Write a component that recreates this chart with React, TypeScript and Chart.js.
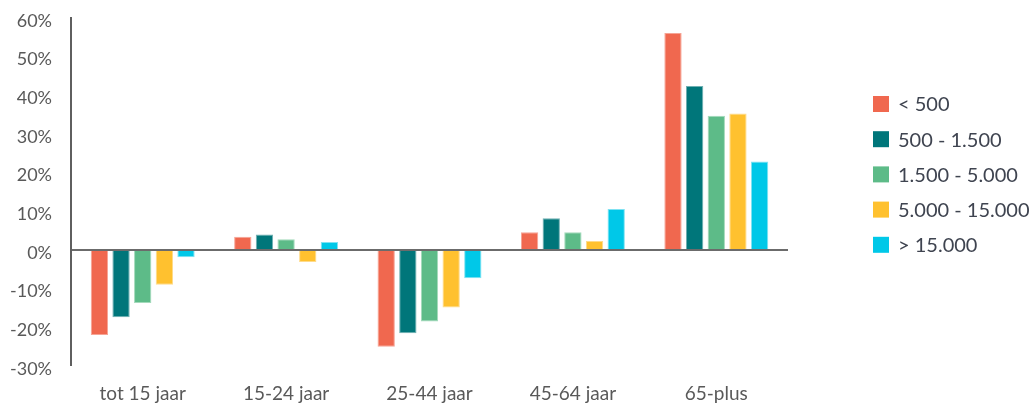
import React, { useEffect, useRef } from "react";
import { Chart, registerables } from "chart.js";

Chart.register(...registerables);

const categories = ["tot 15 jaar", "15-24 jaar", "25-44 jaar", "45-64 jaar", "65-plus"];
const seriesLabels = ["< 500", "500 - 1.500", "1.500 - 5.000", "5.000 - 15.000", "> 15.000"];
const seriesColors = ["#F0684F", "#00767A", "#5DBB88", "#FFC12F", "#00C8E8"];
const seriesBorders = ["#F6A495", "#6FB0B2", "#A3DABB", "#FFDB8A", "#7FE2F2"];
const lt500 = [-22.0, 3.4, -25.0, 4.6, 56.1];
const s500_1500 = [-17.4, 4.0, -21.5, 8.2, 42.4];
const s1500_5000 = [-13.7, 2.8, -18.5, 4.6, 34.7];
const s5000_15000 = [-9.0, -3.1, -14.9, 2.3, 35.3];
const gt15000 = [-1.9, 2.1, -7.3, 10.6, 22.9];
const yTicks = [-30, -20, -10, 0, 10, 20, 30, 40, 50, 60];

const seriesValues = [lt500, s500_1500, s1500_5000, s5000_15000, gt15000];

const legendPlugin = {
  id: "customLegend",
  afterDraw(chart: any) {
    const { ctx, chartArea } = chart;
    const x0 = chartArea.right + 85;
    const yStart = 104;
    const step = 35.2;
    ctx.save();
    ctx.font = "20px Lato";
    ctx.textBaseline = "middle";
    ctx.textAlign = "left";
    chart.data.datasets.forEach((ds: any, i: number) => {
      const y = yStart + i * step;
      ctx.fillStyle = ds.backgroundColor;
      ctx.fillRect(x0, y - 8, 16, 16);
      ctx.fillStyle = "#3F4450";
      ctx.fillText(ds.label, x0 + 25, y + 1);
    });
    ctx.restore();
  },
};

export default function App() {
  const ref = useRef<HTMLCanvasElement | null>(null);
  useEffect(() => {
    document.body.style.margin = "0";
    const canvas = ref.current!;
    const chart = new Chart(canvas, {
      type: "bar",
      data: {
        labels: categories,
        datasets: seriesLabels.map((label, i) => ({
          label,
          data: seriesValues[i],
          backgroundColor: seriesColors[i],
          borderColor: seriesBorders[i],
          borderWidth: 1,
          categoryPercentage: 0.755,
          barPercentage: 0.8,
        })),
      },
      options: {
        animation: false,
        responsive: false,
        maintainAspectRatio: false,
        layout: { padding: { top: 18, right: 247, bottom: 0, left: 0 } },
        plugins: {
          legend: { display: false },
          tooltip: { enabled: false },
        },
        scales: {
          x: {
            grid: { display: false, drawTicks: false },
            border: { display: false },
            ticks: {
              color: "#595959",
              font: { family: "Lato", size: 19 },
              padding: 16,
              maxRotation: 0,
            },
            afterFit: (scale: any) => {
              scale.height = 37;
              scale.paddingLeft = 0;
              scale.paddingRight = 0;
            },
          },
          y: {
            min: -30,
            max: 60,
            afterBuildTicks: (scale: any) => {
              scale.ticks = yTicks.map((v) => ({ value: v }));
            },
            ticks: {
              color: "#595959",
              font: { family: "Lato", size: 18 },
              padding: 19,
              labelOffset: 3,
              callback: (v: any) => `${v}%`,
            },
            grid: {
              drawTicks: false,
              color: (c: any) => (c.tick && c.tick.value === 0 ? "#6B6B6B" : "rgba(0,0,0,0)"),
              lineWidth: (c: any) => (c.tick && c.tick.value === 0 ? 2 : 0),
            },
            border: { display: true, color: "#5F5F5F", width: 2 },
            afterFit: (scale: any) => {
              scale.width = 71;
              scale.paddingTop = 0;
              scale.paddingBottom = 0;
            },
          },
        },
      },
      plugins: [legendPlugin],
    });
    return () => chart.destroy();
  }, []);
  return (
    <div style={{ width: 1035, height: 403, position: "relative", background: "#fff" }}>
      <canvas ref={ref} width={1035} height={403} style={{ display: "block" }} />
    </div>
  );
}
